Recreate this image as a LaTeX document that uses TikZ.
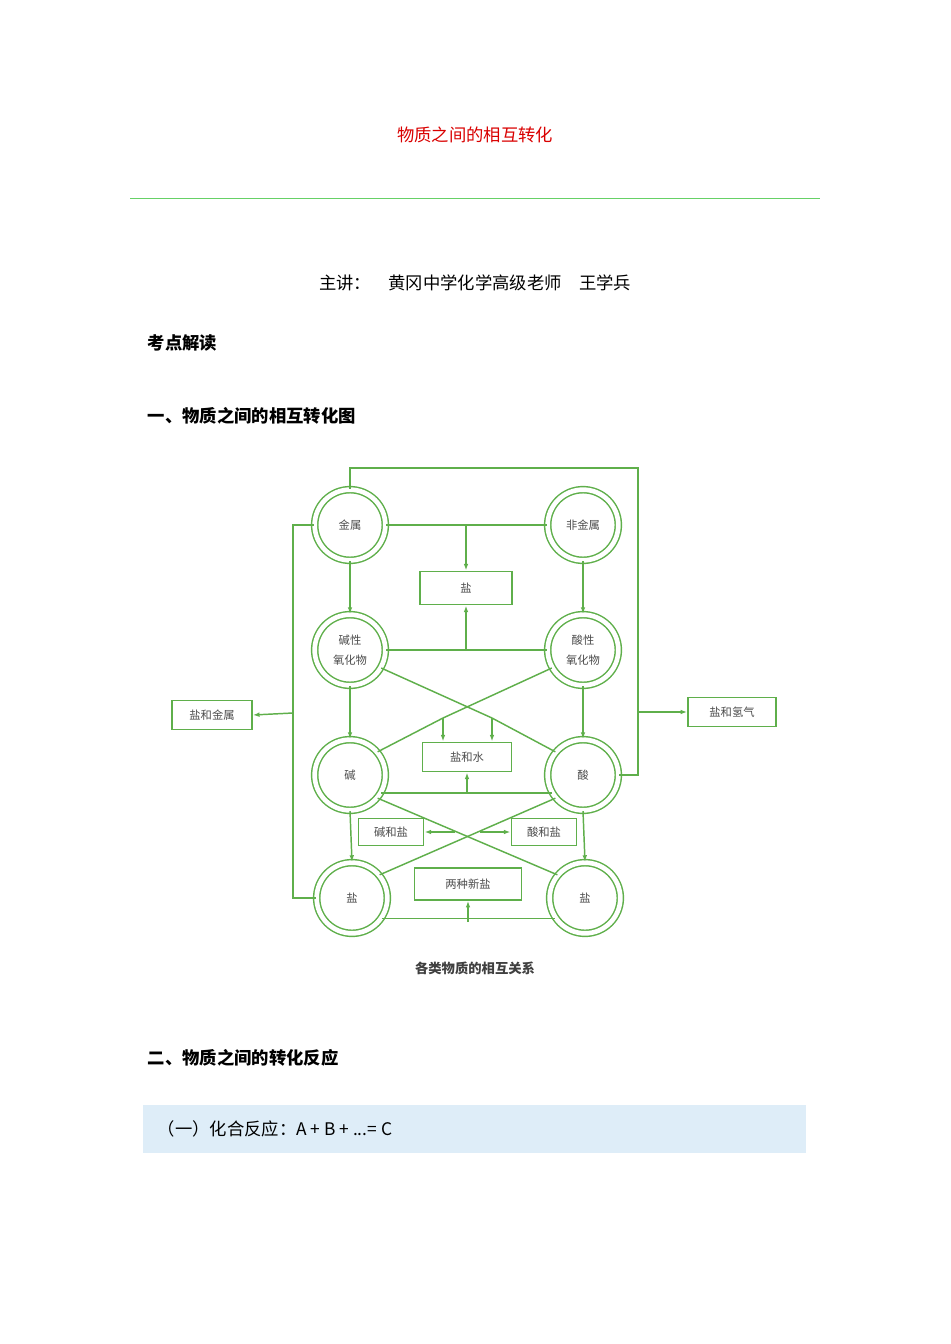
\documentclass[tikz,border=0pt]{standalone}
\usepackage{fontspec}
\newfontfamily\cjk{Noto Sans CJK SC}
\usetikzlibrary{arrows.meta}
\definecolor{gr}{RGB}{95,175,75}
\definecolor{lb}{RGB}{222,237,248}
\begin{document}
\begin{tikzpicture}[x=0.75pt,y=-0.75pt,
  ring/.style={circle,draw=gr,double=white,double distance=3.5pt,line width=1.1pt,minimum size=53pt,inner sep=0pt,font=\cjk\fontsize{8.5}{10}\selectfont,align=center,text=black!70},
  bx/.style={draw=gr,line width=1.2pt,inner sep=0pt,font=\cjk\fontsize{8.5}{10}\selectfont,text=black!70},
  ln/.style={draw=gr,line width=1.1pt},
  ar/.style={ln,-{Latex[length=5pt,width=3.5pt]}},
  hd/.style={font=\cjk\bfseries\fontsize{13}{15}\selectfont,anchor=west}]
\useasboundingbox (0,0) rectangle (950,1344);
\node[font=\cjk\fontsize{13}{15}\selectfont,text=red!85!black] (title) at (475,135) {物质之间的相互转化};
\draw[green!70!black!60,line width=0.6pt] (130,198) -- (820,198);
\node[font=\cjk\fontsize{13}{15}\selectfont] (lect) at (475,283) {主讲：\quad 黄冈中学化学高级老师\quad 王学兵};
\node[hd] (h0) at (143,343) {考点解读};
\node[hd] (h1) at (143,416) {一、物质之间的相互转化图};
\node[hd] (h2) at (143,1058) {二、物质之间的转化反应};
\fill[lb] (143,1105) rectangle (806,1153);
\node[font=\cjk\fontsize{13}{15}\selectfont,anchor=west] (h3) at (153,1129) {（一）化合反应：A + B + ...= C};

% circles
\node[ring] (m) at (350,525) {金属};
\node[ring] (nm) at (583,525) {非金属};
\node[ring] (bo) at (350,650) {碱性\\[5pt]氧化物};
\node[ring] (ao) at (583,650) {酸性\\[5pt]氧化物};
\node[ring] (b) at (350,775) {碱};
\node[ring] (a) at (583,775) {酸};
\node[ring] (s1) at (352,898) {盐};
\node[ring] (s2) at (585,898) {盐};
% boxes
\node[bx,minimum width=69pt,minimum height=25pt] (salt) at (466,588) {盐};
\node[bx,minimum width=60pt,minimum height=22pt] (sm) at (212,715) {盐和金属};
\node[bx,minimum width=66pt,minimum height=22pt] (sh) at (732,712) {盐和氢气};
\node[bx,minimum width=67pt,minimum height=22pt] (sw) at (467,757) {盐和水};
\node[bx,minimum width=49pt,minimum height=20pt] (bs) at (391,832) {碱和盐};
\node[bx,minimum width=49pt,minimum height=20pt] (as) at (544,832) {酸和盐};
\node[bx,minimum width=80pt,minimum height=24pt] (ns) at (468,884) {两种新盐};
\node[font=\cjk\bfseries\fontsize{10}{12}\selectfont,text=black!75] (cap) at (475,968) {各类物质的相互关系};

% coordinates
\coordinate (jt) at (466,525);
\coordinate (jb) at (466,650);
\coordinate (jl) at (293,713);
\coordinate (jr) at (638,712);
\coordinate (c1) at (443,718);
\coordinate (c2) at (492,718);
\coordinate (jm) at (467,793);
\coordinate (jbot) at (468,922);

\draw[ln] (m.north) -- (350,468) -- (638,468) -- (638,775) -- (a.east);
\draw[ar] (jr) -- (sh.west);
\draw[ln] (m.west) -- (293,525) -- (293,898) -- (s1.west);
\draw[ar] (jl) -- (sm.east);
\draw[ln] (m.east) -- (nm.west);
\draw[ar] (jt) -- (salt.north);
\draw[ln] (bo.east) -- (ao.west);
\draw[ar] (jb) -- (salt.south);
\draw[ar] (m.south) -- (bo.north);
\draw[ar] (nm.south) -- (ao.north);
\draw[ar] (bo.south) -- (b.north);
\draw[ar] (ao.south) -- (a.north);
\draw[ar] (b.south) -- (s1.north);
\draw[ar] (a.south) -- (s2.north);
% salt and water
\draw[ln] (bo.-30) -- (c2);
\draw[ln] (ao.210) -- (c1);
\draw[ln] (b.40) -- (c1);
\draw[ln] (a.140) -- (c2);
\draw[ar] (c1) -- (c1 |- sw.north);
\draw[ar] (c2) -- (c2 |- sw.north);
\draw[ln] (b.-30) -- (a.210);
\draw[ar] (jm) -- (sw.south);
% lower cross
\draw[ln] (b.-40) -- (s2.140);
\draw[ln] (a.220) -- (s1.40);
\draw[ar] (455,832) -- (bs.east);
\draw[ar] (480,832) -- (as.west);
% bottom
\draw[ln] (s1.-35) -- (s2.215);
\draw[ar] (jbot) -- (ns.south);
\end{tikzpicture}
\end{document}
